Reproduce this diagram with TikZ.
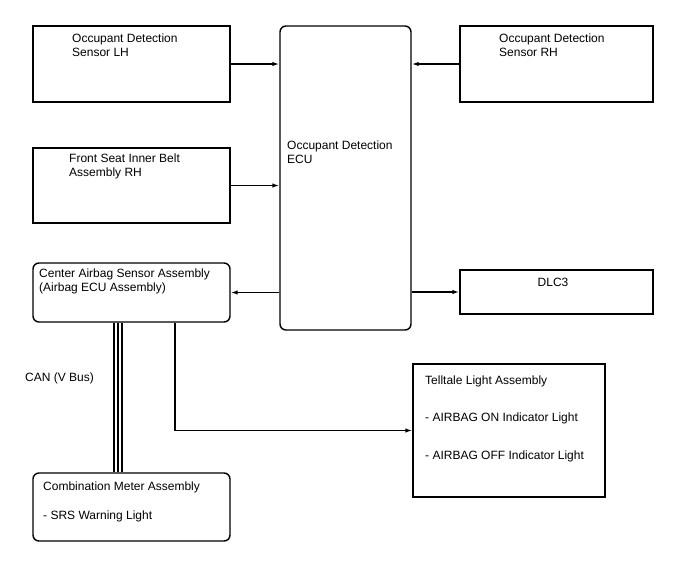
\documentclass[tikz,border=0pt]{standalone}
\usepackage{fontspec}
\setmainfont{Liberation Sans}
\usetikzlibrary{arrows.meta, positioning}

\begin{document}
\begin{tikzpicture}[
    x=1pt, y=-1pt,
    >={Latex[length=7pt,width=4.5pt]},
    font=\fontsize{12}{14}\selectfont,
    unit/.style={draw, line width=1.4pt, inner sep=0pt},
    roundunit/.style={unit, rounded corners=6pt},
    txt/.style={anchor=north west, inner sep=0pt, align=left},
    link/.style={->, line width=1.4pt},
  ]
  \useasboundingbox (0,0) rectangle (688,560);

  % boxes
  \node[unit, minimum width=197pt, minimum height=76pt] (lh) at (131.5,64) {};
  \node[unit, minimum width=197pt, minimum height=75pt] (belt) at (131.5,185.5) {};
  \node[roundunit, minimum width=197pt, minimum height=59pt] (cab) at (131.5,292.5) {};
  \node[roundunit, minimum width=197pt, minimum height=68pt] (meter) at (131.5,507) {};
  \node[roundunit, minimum width=131pt, minimum height=304pt] (ecu) at (345.5,178) {};
  \node[unit, minimum width=193pt, minimum height=76pt] (rh) at (556.5,64) {};
  \node[unit, minimum width=193pt, minimum height=44pt] (dlc) at (556.5,292) {};
  \node[unit, minimum width=192pt, minimum height=133pt] (tell) at (509,430.5) {};

  % texts
  \node[txt] (lhtxt) at (72,34) {Occupant Detection\\Sensor LH};
  \node[txt] (belttxt) at (69,154) {Front Seat Inner Belt\\Assembly RH};
  \node[txt] (cabtxt) at (39,269) {Center Airbag Sensor Assembly\\(Airbag ECU Assembly)};
  \node[txt] (metertxt) at (43,482) {Combination Meter Assembly\\[15pt]- SRS Warning Light};
  \node[txt] (ecutxt) at (287,141) {Occupant Detection\\ECU};
  \node[txt] (rhtxt) at (499,34) {Occupant Detection\\Sensor RH};
  \node[anchor=north, inner sep=0pt] (dlctxt) at (553,278) {DLC3};
  \node[txt] (telltxt) at (425,376) {Telltale Light Assembly\\[23pt]- AIRBAG ON Indicator Light\\[24pt]- AIRBAG OFF Indicator Light};
  \node[txt] (cantxt) at (25,373) {CAN (V Bus)};

  % connections
  \draw[link] (lh.east) -- (lh.east -| ecu.west);
  \draw[link] (belt.east) -- (belt.east -| ecu.west);
  \draw[link] (rh.west) -- (rh.west -| ecu.east);
  \draw[link] (cab.east -| ecu.west) -- (cab.east);
  \draw[link] (dlc.west -| ecu.east) -- (dlc.west);
  \draw[link] ([xshift=43.5pt]cab.south) |- (tell.west);
  \foreach \dx in {-17.5,-13.5,-9.5}
    \draw[line width=1.4pt] ([xshift=\dx pt]cab.south) -- ([xshift=\dx pt]meter.north);
\end{tikzpicture}
\end{document}
